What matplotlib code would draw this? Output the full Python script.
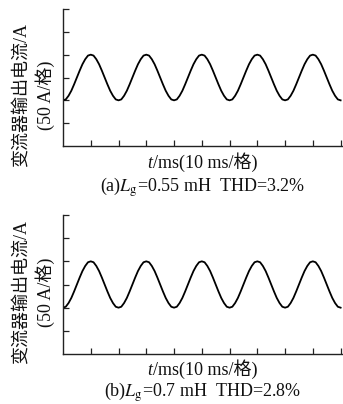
import matplotlib
matplotlib.use("Agg")
import matplotlib.pyplot as plt
import numpy as np

plt.rcParams['mathtext.fontset'] = 'stix'
FAM = ['Liberation Serif', 'Noto Sans CJK SC', 'DejaVu Sans']

# time samples (ms), 1 ms step over 100 ms
time_ms = list(range(0, 101))
# readings (A) off both traces
current_a = [
    -50, -48, -40, -29, -15, 0, 15, 29, 40, 48, 50, 48, 40, 29, 15, 0, -15, -29, -40, -48,
    -50, -48, -40, -29, -15, 0, 15, 29, 40, 48, 50, 48, 40, 29, 15, 0, -15, -29, -40, -48,
    -50, -48, -40, -29, -15, 0, 15, 29, 40, 48, 50, 48, 40, 29, 15, 0, -15, -29, -40, -48,
    -50, -48, -40, -29, -15, 0, 15, 29, 40, 48, 50, 48, 40, 29, 15, 0, -15, -29, -40, -48,
    -50, -48, -40, -29, -15, 0, 15, 29, 40, 48, 50, 48, 40, 29, 15, 0, -15, -29, -40, -48,
    -50,
]
current_b = [
    -50, -48, -40, -29, -15, 0, 15, 29, 40, 48, 50, 48, 40, 29, 15, 0, -15, -29, -40, -48,
    -50, -48, -40, -29, -15, 0, 15, 29, 40, 48, 50, 48, 40, 29, 15, 0, -15, -29, -40, -48,
    -50, -48, -40, -29, -15, 0, 15, 29, 40, 48, 50, 48, 40, 29, 15, 0, -15, -29, -40, -48,
    -50, -48, -40, -29, -15, 0, 15, 29, 40, 48, 50, 48, 40, 29, 15, 0, -15, -29, -40, -48,
    -50, -48, -40, -29, -15, 0, 15, 29, 40, 48, 50, 48, 40, 29, 15, 0, -15, -29, -40, -48,
    -50,
]
x_ticks = [10, 20, 30, 40, 50, 60, 70, 80, 90, 100]
y_ticks = [-100, -50, 0, 50, 100, 150]
ylabel1 = '变流器输出电流/A'
ylabel2 = '(50 A/格)'
xlabel_var = 't'
xlabel_rest = '/ms(10 ms/格)'
captions = ['(a)$L_{\\mathrm{g}}$=0.55 mH  THD=3.2%', '(b)$L_{\\mathrm{g}}$=0.7 mH  THD=2.8%']

W, H = 343, 404
FS = 13
COL = '#111111'
fig = plt.figure(figsize=(W / 100, H / 100), dpi=100)

panels = [
    dict(top=9, bottom=146, data=current_a, ycen=95, xl=163, cap=187),
    dict(top=215, bottom=354, data=current_b, ycen=292, xl=370, cap=392),
]

for p, cap in zip(panels, captions):
    left, right = 63, 342
    ax = fig.add_axes([left / W, (H - p['bottom']) / H, (right - left) / W, (p['bottom'] - p['top']) / H])
    ax.plot(time_ms, p['data'], color='black', lw=1.3)
    ax.set_xlim(0, 100.5)
    ax.set_ylim(-150, 150)
    ax.set_xticks(x_ticks)
    ax.set_yticks(y_ticks)
    ax.tick_params(direction='in', length=4, width=0.9, labelbottom=False, labelleft=False, colors='#222222')
    for s in ['top', 'right']:
        ax.spines[s].set_visible(False)
    for s in ['left', 'bottom']:
        ax.spines[s].set_linewidth(1.0)
        ax.spines[s].set_color('#222222')
    fig.text(21 / W, 1 - p['ycen'] / H, ylabel1, rotation=90, ha='center', va='center',
             fontsize=FS, family=FAM, color=COL)
    fig.text(45 / W, 1 - p['ycen'] / H, ylabel2, rotation=90, ha='center', va='center',
             fontsize=FS, family=FAM, color=COL)
    t1 = fig.text(147 / W, 1 - (p['xl'] + 5) / H, xlabel_var, ha='left', va='baseline',
                  fontsize=FS, family=FAM, style='italic', color=COL)
    ax.annotate(xlabel_rest, xy=(1, 0), xycoords=t1, xytext=(1, 0), textcoords='offset points',
                ha='left', va='bottom', fontsize=FS, family=FAM, color=COL, annotation_clip=False)
    fig.text(203 / W, 1 - p['cap'] / H, cap, ha='center', va='center',
             fontsize=FS, family=FAM, color=COL)

fig.savefig('out.png', dpi=100)
